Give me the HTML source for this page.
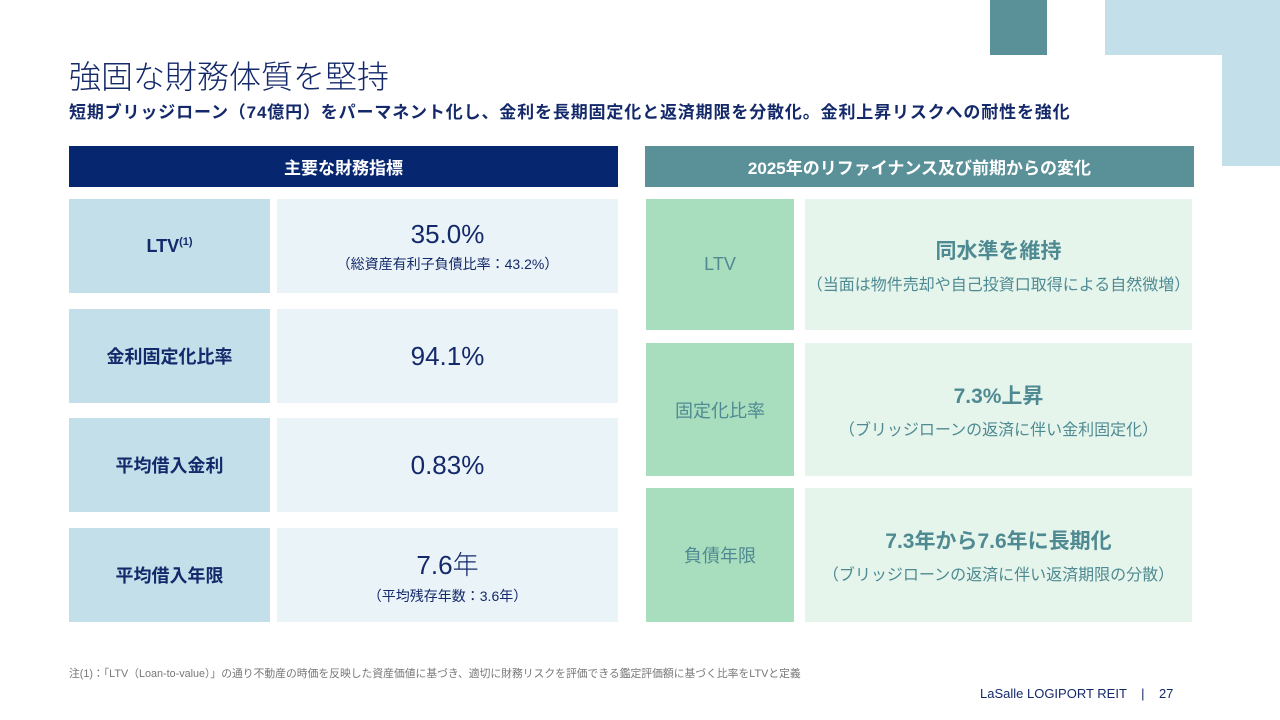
<!DOCTYPE html>
<html><head><meta charset="utf-8"><style>
*{margin:0;padding:0;box-sizing:border-box}
body{width:1280px;height:720px;background:#fff;position:relative;overflow:hidden;font-family:"Liberation Sans","Noto Sans CJK JP",sans-serif}
.a{position:absolute}
.c{display:flex;flex-direction:column;align-items:center;justify-content:center;text-align:center}
.ll{background:#c3dfea;color:#14296a;font-weight:bold;font-size:18px}
.lv{background:#eaf4f8;color:#14296a}
.rl{background:#a8ddbe;color:#4f8a92;font-size:18px}
.rv{background:#e5f5ec;color:#4f8a92}
.big{font-size:26px;font-weight:300}
.sm{font-size:14px;margin-top:4px}
.rb{font-size:21px;font-weight:bold}
.rs{font-size:16px;margin-top:6px}
</style></head><body>
<div class="a" style="left:990px;top:0;width:57px;height:55px;background:#5a9098"></div>
<div class="a" style="left:1105px;top:0;width:175px;height:55px;background:#c3dfea"></div>
<div class="a" style="left:1222px;top:55px;width:58px;height:111px;background:#c3dfea"></div>
<div class="a" style="left:69px;top:52px;font-size:32px;color:#14296a;font-weight:300">強固な財務体質を堅持</div>
<div class="a" style="left:69px;top:98px;font-size:17px;letter-spacing:0.85px;color:#14296a;font-weight:bold">短期ブリッジローン（74億円）をパーマネント化し、金利を長期固定化と返済期限を分散化。金利上昇リスクへの耐性を強化</div>
<div class="a c" style="left:69px;top:146px;width:549px;height:41px;background:#06266f;color:#fff;font-size:17px;font-weight:bold">主要な財務指標</div>
<div class="a c" style="left:645px;top:146px;width:549px;height:41px;background:#5a9098;color:#fff;font-size:17px;font-weight:bold">2025年のリファイナンス及び前期からの変化</div>

<div class="a c ll" style="left:69px;top:199px;width:201px;height:94px"><span>LTV<sup style="font-size:11px">(1)</sup></span></div>
<div class="a c lv" style="left:277px;top:199px;width:341px;height:94px"><div class="big">35.0%</div><div class="sm">（総資産有利子負債比率：43.2%）</div></div>
<div class="a c ll" style="left:69px;top:309px;width:201px;height:94px">金利固定化比率</div>
<div class="a c lv" style="left:277px;top:309px;width:341px;height:94px"><div class="big">94.1%</div></div>
<div class="a c ll" style="left:69px;top:418px;width:201px;height:94px">平均借入金利</div>
<div class="a c lv" style="left:277px;top:418px;width:341px;height:94px"><div class="big">0.83%</div></div>
<div class="a c ll" style="left:69px;top:528px;width:201px;height:94px">平均借入年限</div>
<div class="a c lv" style="left:277px;top:528px;width:341px;height:94px"><div class="big">7.6年</div><div class="sm">（平均残存年数：3.6年）</div></div>

<div class="a c rl" style="left:646px;top:199px;width:148px;height:131px">LTV</div>
<div class="a c rv" style="left:805px;top:199px;width:387px;height:131px"><div class="rb">同水準を維持</div><div class="rs">（当面は物件売却や自己投資口取得による自然微増）</div></div>
<div class="a c rl" style="left:646px;top:343px;width:148px;height:133px">固定化比率</div>
<div class="a c rv" style="left:805px;top:343px;width:387px;height:133px"><div class="rb">7.3%上昇</div><div class="rs">（ブリッジローンの返済に伴い金利固定化）</div></div>
<div class="a c rl" style="left:646px;top:488px;width:148px;height:134px">負債年限</div>
<div class="a c rv" style="left:805px;top:488px;width:387px;height:134px"><div class="rb">7.3年から7.6年に長期化</div><div class="rs">（ブリッジローンの返済に伴い返済期限の分散）</div></div>

<div class="a" style="left:69px;top:665px;font-size:10.8px;color:#777">注(1)：「LTV（Loan-to-value）」の通り不動産の時価を反映した資産価値に基づき、適切に財務リスクを評価できる鑑定評価額に基づく比率をLTVと定義</div>
<div class="a" style="left:980px;top:686px;font-size:13px;color:#14296a">LaSalle LOGIPORT REIT &nbsp;&nbsp; | &nbsp;&nbsp; 27</div>
</body></html>
